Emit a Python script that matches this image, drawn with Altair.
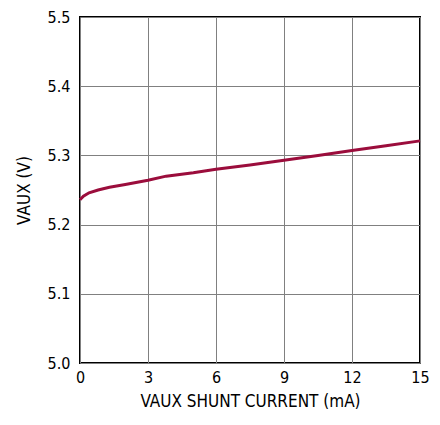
import altair as alt
import pandas as pd

current_ma = [0.0, 0.15, 0.4, 0.8, 1.3, 2.0, 3.0, 3.8, 5.0, 6.0, 7.5, 9.0, 10.5, 12.0, 13.5, 15.0]
vaux_v = [5.236, 5.241, 5.246, 5.250, 5.254, 5.258, 5.264, 5.270, 5.275, 5.280, 5.286, 5.293, 5.300, 5.307, 5.314, 5.321]

df = pd.DataFrame({"current": current_ma, "vaux": vaux_v})

FONT = "DejaVu Sans Condensed, Liberation Sans, sans-serif"

chart = alt.Chart(df).mark_line(color="#9b0d3c", strokeWidth=3, interpolate="linear").encode(
    x=alt.X("current:Q", scale=alt.Scale(domain=[0, 15], nice=False),
            axis=alt.Axis(title="VAUX SHUNT CURRENT (mA)", values=[0, 3, 6, 9, 12, 15],
                          format="d", labelPadding=6, titlePadding=8, labelFlush=False)),
    y=alt.Y("vaux:Q", scale=alt.Scale(domain=[5.0, 5.5], nice=False, zero=False),
            axis=alt.Axis(title="VAUX (V)", values=[5.0, 5.1, 5.2, 5.3, 5.4, 5.5],
                          format=".1f", labelPadding=10, titlePadding=14, labelFlush=False)),
).properties(
    width=340, height=346,
    autosize=alt.AutoSizeParams(type="none"),
    padding={"left": 72, "top": 9, "right": 12, "bottom": 54},
).configure_view(
    stroke="black", strokeWidth=2
).configure_axis(
    grid=True, gridColor="#808080", gridWidth=1, gridOpacity=1,
    domain=False, ticks=False,
    labelFont=FONT, labelFontSize=16, labelColor="black",
    titleFont=FONT, titleFontSize=17, titleColor="black", titleFontWeight="normal",
)

chart.save("out.html", embed_options={"renderer": "svg", "actions": False})
